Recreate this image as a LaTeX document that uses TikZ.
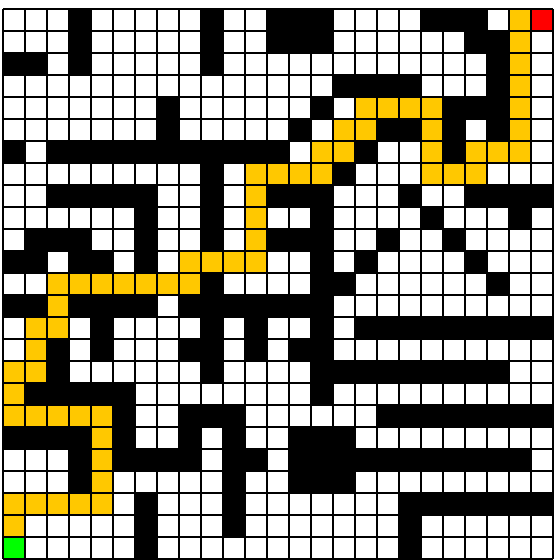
\documentclass[tikz,border=0pt]{standalone}
\usepackage{tikz}
\definecolor{trailgold}{RGB}{255,200,0}
\definecolor{goalred}{RGB}{255,0,0}
\definecolor{startgreen}{RGB}{0,255,0}
\tikzset{
  wallcell/.style={fill=black},
  trailcell/.style={fill=trailgold},
  goalcell/.style={fill=goalred},
  startcell/.style={fill=startgreen},
  gridline/.style={draw=black,line width=0.7pt}
}

\begin{document}
\begin{tikzpicture}[x=0.5cm,y=0.5cm]
  \useasboundingbox (-0.136,-0.045) rectangle (25.318,25.409);

  % walls, row by row from the top
  \foreach \r/\cs in {
    0/{3,9,12,13,14,19,20,21},
    1/{3,9,12,13,14,21,22},
    2/{0,1,3,9,22},
    3/{15,16,17,18,22},
    4/{7,14,20,21,22},
    5/{7,13,17,18,20,22},
    6/{0,2,3,4,5,6,7,8,9,10,11,12,16,20},
    7/{9,15},
    8/{2,3,4,5,6,9,12,13,14,18,21,22,23,24},
    9/{6,9,14,19,23},
    10/{1,2,3,6,9,12,13,14,17,20},
    11/{0,1,3,4,6,14,16,21},
    12/{9,14,15,22},
    13/{0,1,3,4,5,6,8,9,10,11,12,13,14},
    14/{4,9,11,14,16,17,18,19,20,21,22,23,24},
    15/{2,4,8,9,11,13,14},
    16/{2,9,14,15,16,17,18,19,20,21,22},
    17/{1,2,3,4,5,14},
    18/{5,8,9,10,17,18,19,20,21,22,23,24},
    19/{0,1,2,3,5,8,10,13,14,15},
    20/{3,5,6,7,8,10,11,13,14,15,16,17,18,19,20,21,22,23},
    21/{3,10,13,14,15},
    22/{6,10,18,19,20,21,22,23,24},
    23/{6,10,18},
    24/{6,18}}{
    \foreach \c in \cs
      \fill[wallcell] (\c,24-\r) rectangle ++(1,1);
  }

  % solved route
  \foreach \r/\cs in {
    0/{23}, 1/{23}, 2/{23}, 3/{23},
    4/{16,17,18,19,23},
    5/{15,16,19,23},
    6/{14,15,19,21,22,23},
    7/{11,12,13,14,19,20,21},
    8/{11}, 9/{11}, 10/{11},
    11/{8,9,10,11},
    12/{2,3,4,5,6,7,8},
    13/{2}, 14/{1,2}, 15/{1}, 16/{0,1}, 17/{0},
    18/{0,1,2,3,4},
    19/{4}, 20/{4}, 21/{4},
    22/{0,1,2,3,4},
    23/{0}}{
    \foreach \c in \cs
      \fill[trailcell] (\c,24-\r) rectangle ++(1,1);
  }

  \fill[goalcell] (24,24) rectangle ++(1,1);
  \fill[startcell] (0,0) rectangle ++(1,1);

  \draw[gridline,step=1] (0,0) grid (25,25);
\end{tikzpicture}
\end{document}
